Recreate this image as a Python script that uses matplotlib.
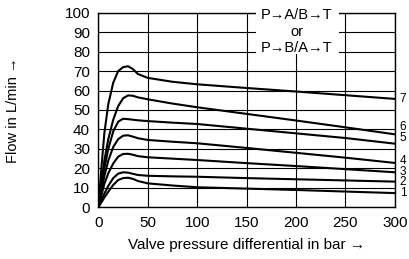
import numpy as np
import matplotlib
matplotlib.use("Agg")
import matplotlib.pyplot as plt
from matplotlib.patches import Rectangle

plt.rcParams['font.family'] = ['Liberation Sans', 'DejaVu Sans']

# pressure differential in bar
dp = [0, 3, 6, 10, 15, 20, 25, 30, 35, 40, 50, 75, 100, 150, 200, 250, 300]

# flow in L/min for curves 1..7
flow = {
  "1": [0, 2.5, 5, 8, 11.5, 14, 15, 15.2, 14.6, 13.5, 12.3, 11.2, 10.3, 9.6, 8.9, 8.1, 7.3],
  "2": [0, 3.5, 7, 11, 15, 17.3, 18, 17.8, 17.2, 16.6, 16.2, 15.9, 15.7, 15.0, 14.4, 13.8, 13.2],
  "3": [0, 6, 12, 17.5, 22.5, 26, 27.4, 27.5, 27, 26.3, 25.7, 25, 24.3, 22.7, 21.2, 19.6, 18],
  "4": [0, 8, 16, 24, 31, 35, 36.8, 37, 36.3, 35.5, 34.6, 33.7, 32.9, 30.5, 28, 25.5, 22.8],
  "5": [0, 10, 20, 30, 39, 44, 45.5, 45.3, 45, 44.7, 44.3, 43.5, 42.8, 40.4, 38, 35.6, 32.7],
  "6": [0, 12, 24, 35, 45, 52, 56, 57.5, 57.3, 56.5, 55.5, 53.3, 51.4, 48, 44.6, 41.1, 37.5],
  "7": [0, 20, 38, 53, 64, 70, 72, 72.5, 71, 68.5, 66.5, 64.5, 63.2, 61.3, 59.5, 57.6, 55.7],
}
label_y = {"1": 7.3, "2": 12.9, "3": 18.3, "4": 23.8, "5": 35.5, "6": 41.5, "7": 55.7}

xticks = [0, 50, 100, 150, 200, 250, 300]
yticks = [0, 10, 20, 30, 40, 50, 60, 70, 80, 90, 100]

fig = plt.figure(figsize=(4.1, 2.59), dpi=100)
ax = fig.add_axes([0.240, 0.1996, 0.723, 0.7514])

for k in flow:
  ax.plot(dp, flow[k], color="black", lw=1.5, zorder=2, solid_joinstyle="round")
  ax.text(305, label_y[k], k, fontsize=8.5, ha="left", va="center")

ax.set_xlim(0, 300)
ax.set_ylim(0, 100)
ax.set_xticks(xticks)
ax.set_yticks(yticks)
ax.tick_params(length=0, labelsize=11, pad=6)
ax.grid(True, color="black", lw=0.8, zorder=1)
ax.set_axisbelow(True)
for s in ax.spines.values():
  s.set_linewidth(1.0)

ax.set_xlabel("Valve pressure differential in bar \u2192", fontsize=11, labelpad=6)
ax.set_ylabel("Flow in L/min \u2192", fontsize=10.5)
ax.yaxis.set_label_coords(-0.265, 0.5)

# white box behind the direction note, covers grid and top frame
ax.add_patch(Rectangle((160, 78.6), 83, 24, facecolor="white", edgecolor="none",
                       clip_on=False, zorder=5))
ax.text(201, 98.8, "P\u2192A/B\u2192T", fontsize=10.5, ha="center", va="center", zorder=6)
ax.text(201, 90.3, "or", fontsize=10.5, ha="center", va="center", zorder=6)
ax.text(201, 82, "P\u2192B/A\u2192T", fontsize=10.5, ha="center", va="center", zorder=6)

fig.savefig("out.png", dpi=100)
